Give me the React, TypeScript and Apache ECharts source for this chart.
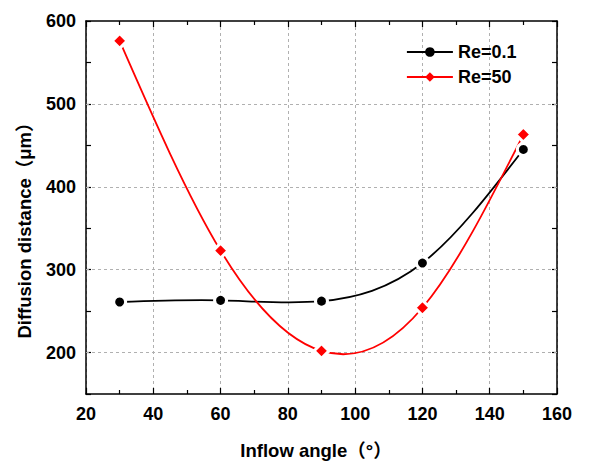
import React, { useEffect, useRef } from "react";
import * as echarts from "echarts";

const angles = [30, 60, 90, 120, 150];
const re01 = [261, 263, 262, 308, 445];
const re50 = [576, 323, 202, 254, 463];
const yGridValues = [200, 300, 400, 500];
const seriesNames = ["Re=0.1", "Re=50"];
const seriesColors = ["#000000", "#ff0000"];
const xTitle = "Inflow angle（°）";
const yTitle = "Diffusion distance（μm）";

const FONT = "'Liberation Sans', Arial, 'Noto Sans CJK SC', sans-serif";

// natural cubic spline slopes at the knots (how Origin's "Spline" connection draws)
function splineSlopes(xs: number[], ys: number[]): number[] {
  const n = xs.length;
  const h: number[] = [];
  for (let i = 0; i < n - 1; i++) h.push(xs[i + 1] - xs[i]);
  const M = new Array(n).fill(0);
  if (n > 2) {
    const a: number[] = [], b: number[] = [], c: number[] = [], d: number[] = [];
    for (let i = 1; i < n - 1; i++) {
      a.push(h[i - 1]);
      b.push(2 * (h[i - 1] + h[i]));
      c.push(h[i]);
      d.push(6 * ((ys[i + 1] - ys[i]) / h[i] - (ys[i] - ys[i - 1]) / h[i - 1]));
    }
    const m = b.length;
    for (let i = 1; i < m; i++) {
      const w = a[i] / b[i - 1];
      b[i] -= w * c[i - 1];
      d[i] -= w * d[i - 1];
    }
    const sol = new Array(m).fill(0);
    sol[m - 1] = d[m - 1] / b[m - 1];
    for (let i = m - 2; i >= 0; i--) sol[i] = (d[i] - c[i] * sol[i + 1]) / b[i];
    for (let i = 0; i < m; i++) M[i + 1] = sol[i];
  }
  const s: number[] = [];
  for (let i = 0; i < n - 1; i++) {
    s.push((ys[i + 1] - ys[i]) / h[i] - (h[i] * (2 * M[i] + M[i + 1])) / 6);
  }
  const k = n - 1;
  s.push((ys[k] - ys[k - 1]) / h[k - 1] + (h[k - 1] * (M[k - 1] + 2 * M[k])) / 6);
  return s;
}

function splineSeries(name: string, ys: number[], color: string) {
  const slopes = splineSlopes(angles, ys);
  return {
    name: name + "-curve",
    type: "custom",
    coordinateSystem: "cartesian2d",
    xAxisIndex: 0,
    yAxisIndex: 0,
    silent: true,
    z: 3,
    data: angles.map((a, i) => [a, ys[i]]),
    renderItem: (params: any, api: any) => {
      if (params.dataIndex !== 0) return null;
      let d = "";
      const p0 = api.coord([angles[0], ys[0]]);
      d += `M${p0[0]},${p0[1]}`;
      for (let i = 0; i < angles.length - 1; i++) {
        const h = angles[i + 1] - angles[i];
        const c1 = api.coord([angles[i] + h / 3, ys[i] + (slopes[i] * h) / 3]);
        const c2 = api.coord([angles[i + 1] - h / 3, ys[i + 1] - (slopes[i + 1] * h) / 3]);
        const p = api.coord([angles[i + 1], ys[i + 1]]);
        d += ` C${c1[0]},${c1[1]} ${c2[0]},${c2[1]} ${p[0]},${p[1]}`;
      }
      return {
        type: "path",
        shape: { pathData: d },
        style: { fill: "none", stroke: color, lineWidth: 1.8 },
      };
    },
  };
}

export default function App() {
  const ref = useRef<HTMLDivElement>(null);
  useEffect(() => {
    if (!ref.current) return;
    const chart = echarts.init(ref.current, null, { renderer: "svg" });
    const axisLine = { show: true, onZero: false, lineStyle: { color: "#000", width: 1.5 } };
    const tickStyle = { color: "#000", width: 1.2 };
    const labelStyle = { color: "#000", fontSize: 18, fontWeight: "bold" as const, fontFamily: FONT };
    const gridDash = { color: "#b0b0b0", type: [3, 3], width: 1 };
    chart.setOption({
      animation: false,
      backgroundColor: "#fff",
      grid: { left: 86, right: 57, top: 21, bottom: 70, containLabel: false },
      legend: {
        orient: "vertical",
        left: 406,
        top: 43,
        padding: 0,
        itemWidth: 46,
        itemHeight: 12,
        itemGap: 7,
        data: seriesNames.map((n, i) => ({
          name: n,
          itemStyle: { borderWidth: 0, color: seriesColors[i] },
          lineStyle: { opacity: 1, width: 1.8, color: seriesColors[i] },
        })),
        textStyle: { ...labelStyle, fontSize: 18 },
      },
      graphic: [
        {
          type: "text",
          x: 24,
          y: 226,
          rotation: Math.PI / 2,
          style: {
            text: yTitle,
            fill: "#000",
            font: `bold 18.5px ${FONT}`,
            align: "center",
            verticalAlign: "middle",
          },
        },
        {
          type: "text",
          x: 316,
          y: 450,
          style: {
            text: xTitle,
            fill: "#000",
            font: `bold 18.5px ${FONT}`,
            align: "center",
            verticalAlign: "middle",
          },
        },
      ],
      xAxis: [
        {
          type: "value",
          min: 20,
          max: 160,
          interval: 20,
          position: "bottom",
          axisLine,
          axisTick: { show: true, inside: true, length: 6, lineStyle: tickStyle },
          minorTick: { show: true, splitNumber: 2, length: 4, lineStyle: tickStyle },
          axisLabel: { ...labelStyle, margin: 11 },
          splitLine: { show: true, lineStyle: gridDash },
        },
        {
          type: "value",
          min: 20,
          max: 160,
          interval: 20,
          position: "top",
          axisLine,
          axisTick: { show: true, inside: true, length: 6, lineStyle: tickStyle },
          minorTick: { show: true, splitNumber: 2, length: 4, lineStyle: tickStyle },
          axisLabel: { show: false },
          splitLine: { show: false },
        },
      ],
      yAxis: [
        {
          type: "value",
          min: 150,
          max: 600,
          interval: 50,
          position: "left",
          axisLine,
          axisTick: { show: true, inside: true, length: 5, lineStyle: tickStyle },
          axisLabel: {
            ...labelStyle,
            margin: 10,
            formatter: (v: number) => (v % 100 === 0 ? String(v) : ""),
          },
          splitLine: { show: false },
        },
        {
          type: "value",
          min: 150,
          max: 600,
          interval: 50,
          position: "right",
          axisLine,
          axisTick: { show: true, inside: true, length: 5, lineStyle: tickStyle },
          axisLabel: { show: false },
          splitLine: { show: false },
        },
      ],
      series: [
        splineSeries(seriesNames[0], re01, seriesColors[0]),
        splineSeries(seriesNames[1], re50, seriesColors[1]),
        {
          name: seriesNames[0],
          type: "line",
          data: angles.map((a, i) => [a, re01[i]]),
          symbol: "circle",
          symbolSize: 12,
          itemStyle: { color: seriesColors[0], borderColor: "#fff", borderWidth: 3 },
          lineStyle: { color: seriesColors[0], width: 1.8, opacity: 0 },
          z: 5,
          markLine: {
            silent: true,
            symbol: "none",
            label: { show: false },
            lineStyle: gridDash,
            data: yGridValues.map((v) => ({ yAxis: v })),
            z: 1,
          },
        },
        {
          name: seriesNames[1],
          type: "line",
          data: angles.map((a, i) => [a, re50[i]]),
          symbol: "diamond",
          symbolSize: 15,
          itemStyle: { color: seriesColors[1], borderColor: "#fff", borderWidth: 3 },
          lineStyle: { color: seriesColors[1], width: 1.8, opacity: 0 },
          z: 6,
        },
      ],
    });
    return () => chart.dispose();
  }, []);
  return (
    <div
      ref={ref}
      style={{ position: "fixed", left: 0, top: 0, width: 614, height: 464, background: "#fff" }}
    />
  );
}
